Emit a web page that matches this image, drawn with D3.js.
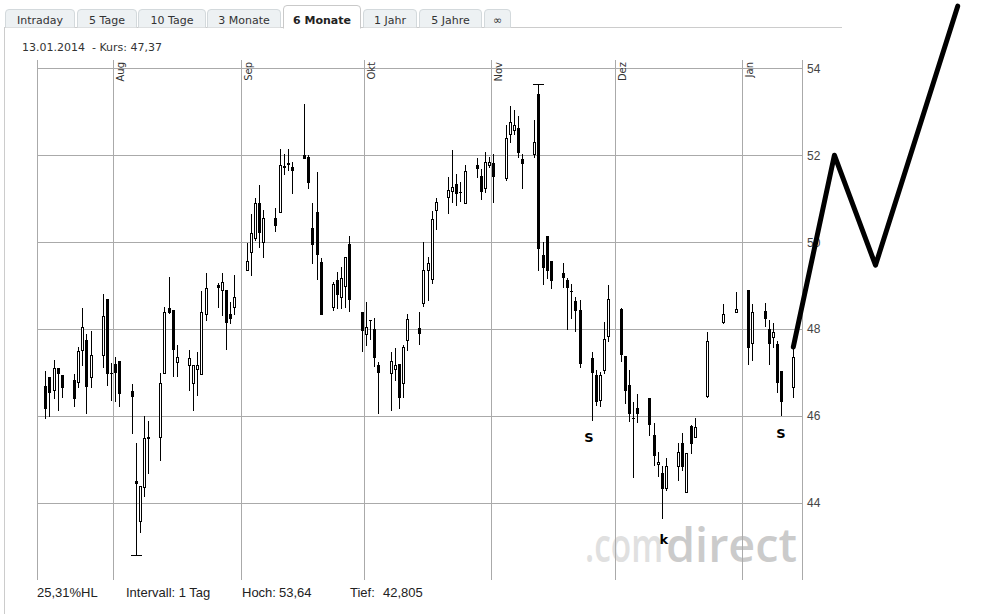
<!DOCTYPE html>
<html><head><meta charset="utf-8">
<script src="https://cdn.jsdelivr.net/npm/d3@7"></script>
<style>html,body{margin:0;padding:0;background:#fff;} svg{display:block;}</style>
</head><body>
<svg id="c" width="984" height="614"></svg>
<script>
// ---------- DATA ----------
const dates = ["2013-07-15","2013-07-16","2013-07-17","2013-07-18","2013-07-19",
"2013-07-22","2013-07-23","2013-07-24","2013-07-25","2013-07-26",
"2013-07-29","2013-07-30","2013-07-31","2013-08-01","2013-08-02",
"2013-08-05","2013-08-06","2013-08-07","2013-08-08","2013-08-09",
"2013-08-12","2013-08-13","2013-08-14","2013-08-15","2013-08-16",
"2013-08-19","2013-08-20","2013-08-21","2013-08-22","2013-08-23",
"2013-08-26","2013-08-27","2013-08-28","2013-08-29","2013-08-30",
"2013-09-02","2013-09-03","2013-09-04","2013-09-05","2013-09-06",
"2013-09-09","2013-09-10","2013-09-11","2013-09-12","2013-09-13",
"2013-09-16","2013-09-17","2013-09-18","2013-09-19","2013-09-20",
"2013-09-23","2013-09-24","2013-09-25","2013-09-26","2013-09-27",
"2013-09-30","2013-10-01","2013-10-02","2013-10-03","2013-10-04",
"2013-10-07","2013-10-08","2013-10-09","2013-10-10","2013-10-11",
"2013-10-14","2013-10-15","2013-10-16","2013-10-17","2013-10-18",
"2013-10-21","2013-10-22","2013-10-23","2013-10-24","2013-10-25",
"2013-10-28","2013-10-29","2013-10-30","2013-10-31","2013-11-01",
"2013-11-04","2013-11-05","2013-11-06","2013-11-07","2013-11-08",
"2013-11-11","2013-11-12","2013-11-13","2013-11-14","2013-11-15",
"2013-11-18","2013-11-19","2013-11-20","2013-11-21","2013-11-22",
"2013-11-25","2013-11-26","2013-11-27","2013-11-28","2013-11-29",
"2013-12-02","2013-12-03","2013-12-04","2013-12-05","2013-12-06",
"2013-12-09","2013-12-10","2013-12-11","2013-12-12","2013-12-13",
"2013-12-16","2013-12-17","2013-12-18","2013-12-19","2013-12-20",
"2013-12-23","2013-12-27","2013-12-30",
"2014-01-02","2014-01-03",
"2014-01-06","2014-01-07","2014-01-08","2014-01-09","2014-01-10",
"2014-01-13"];
const opens = [46.69,46.91,46.60,47.10,46.94, 46.83,46.78,47.53,47.75,46.89,
47.40,48.69,46.99,47.20,47.27, 46.58,44.50,43.58,44.36,45.51,
45.51,46.98,48.48,48.44,47.25, 47.17,46.75,47.09,46.96,48.34,
49.01,48.89,48.90,48.35,48.50, 49.35,49.77,50.09,50.89,50.00,
50.56,50.69,51.76,51.83,51.73, 52.01,51.97,50.32,50.69,49.54,
48.52,49.12,48.73,48.99,49.95, 48.40,47.88,48.21,48.00,47.17,
46.98,47.08,47.20,46.75,47.75, 48.02,48.59,49.36,49.15,50.75,
51.05,51.18,51.33,51.15,50.91, 51.78,51.52,51.24,51.77,51.81,
51.47,52.48,52.57,52.62,51.91, 52.02,53.40,49.70,50.15,49.57,
49.28,49.13,48.88,48.65,48.45, 47.33,46.94,46.38,47.07,47.85,
48.46,47.38,46.71,45.95,46.18, 46.41,45.56,44.89,44.68,44.34,
44.84,45.39,44.26,45.76,45.51, 46.46,48.17,48.39, 48.90,47.69,
48.42,48.00,47.83,47.66,47.04, 46.68];
const highs = [47.04,46.91,47.29,47.10,46.94, 46.96,47.60,48.48,47.88,47.96,
48.81,48.69,47.23,47.35,47.27, 46.73,45.37,44.39,45.99,45.89,
46.98,48.52,49.19,48.44,47.64, 47.52,47.17,47.47,48.88,49.29,
49.07,49.29,48.90,48.62,49.24, 49.97,50.64,51.02,51.31,50.74,
50.79,52.14,52.04,52.14,51.84, 53.18,52.00,50.89,51.61,49.63,
49.08,49.31,49.44,49.65,50.14, 48.40,48.62,48.21,48.25,47.24,
47.48,47.57,47.20,47.63,48.35, 48.40,50.00,49.65,50.72,51.01,
51.49,52.11,51.56,51.39,51.77, 51.93,51.68,52.08,51.95,52.02,
52.70,53.13,53.04,52.90,52.03, 52.81,53.64,50.01,50.15,49.57,
49.51,49.18,49.04,48.73,48.67, 47.47,47.06,47.02,48.17,49.02,
48.48,47.38,47.06,46.32,46.51, 46.41,45.83,45.17,44.84,45.03,
45.37,45.60,45.14,45.79,45.95, 47.94,48.58,48.85, 48.90,48.58,
48.61,48.21,48.13,47.73,47.04, 47.60];
const lows = [45.95,45.99,46.41,46.15,46.43, 46.24,46.68,47.17,46.06,46.68,
47.14,46.71,46.38,46.35,46.23, 45.62,42.805,43.33,44.15,44.70,
45.00,46.98,48.36,46.93,46.93, 46.61,46.13,46.48,46.96,48.21,
48.50,48.32,47.54,48.13,48.34, 49.35,49.24,50.05,49.90,49.67,
50.26,50.69,51.56,51.65,51.14, 51.94,51.25,49.51,49.15,48.34,
48.44,48.49,48.49,48.52,48.41, 47.49,47.64,47.77,47.16,46.06,
46.13,46.84,46.18,46.43,47.52, 47.66,48.54,48.67,49.07,50.30,
50.66,50.93,50.85,50.95,50.91, 51.49,50.99,51.16,51.72,50.93,
51.43,52.31,52.48,51.95,51.24, 51.95,49.36,49.03,49.17,48.94,
48.98,48.00,48.25,47.96,47.14, 45.92,46.25,46.22,46.98,47.73,
47.27,46.31,45.89,44.59,45.87, 45.56,44.87,44.61,43.65,44.31,
44.53,44.76,44.26,45.14,45.51, 46.43,48.15,48.39, 47.20,47.30,
48.07,47.20,47.60,46.56,46.02, 46.43];
const closes = [46.18,46.55,47.10,47.00,46.68, 46.41,47.50,48.04,46.70,47.40,
48.30,46.98,46.98,47.02,46.52, 46.47,44.46,44.39,45.49,45.50,
46.75,48.39,48.40,47.54,47.37, 47.34,47.17,47.17,48.39,48.94,
48.98,49.08,48.16,48.26,48.75, 49.56,50.20,50.89,50.24,50.55,
50.40,51.77,51.72,51.80,51.65, 51.94,51.39,49.95,49.72,48.34,
49.03,48.80,49.17,49.65,48.69, 47.97,48.06,48.21,47.35,47.02,
47.27,47.17,46.43,47.58,48.23, 47.92,49.36,49.51,50.53,50.93,
51.20,51.26,51.12,51.15,51.64, 51.71,51.18,51.84,51.84,51.52,
52.39,52.76,52.70,52.08,51.81, 52.30,49.86,49.44,49.36,49.13,
49.19,48.96,48.88,48.45,47.21, 47.02,46.35,46.94,47.77,48.69,
47.42,46.60,46.06,45.95,46.08, 45.81,45.10,44.94,44.34,44.84,
45.18,44.84,45.14,45.37,45.74, 47.73,48.34,48.46, 47.60,48.39,
48.25,47.67,47.94,46.79,46.35, 47.37];

const yTicks = [44,46,48,50,52,54];
const monthDates = ["2013-08-01","2013-09-01","2013-10-01","2013-11-01","2013-12-01","2014-01-01"];
const monthLabels = ["Aug","Sep","Okt","Nov","Dez","Jan"];

// hand-drawn forecast zig-zag (date, price)
const zigDates = ["2014-01-13","2014-01-23","2014-02-02","2014-02-22"];
const zigPrices = [47.59, 52.0, 49.47, 55.43];

// annotation letters
const noteLabels = ["S","k","S"];
const noteDates = ["2013-11-25","2013-12-12","2014-01-10"];
const notePrices = [45.40, 43.06, 45.50];

const tabLabels = ["Intraday","5 Tage","10 Tage","3 Monate","6 Monate","1 Jahr","5 Jahre","\u221E"];
const activeTab = "6 Monate";

const headerDate = "13.01.2014";
const headerKurs = "- Kurs: 47,37";
const footer = [["25,31%HL"],["Intervall: 1 Tag"],["Hoch:","53,64"],["Tief:","42,805"]];

// ---------- LAYOUT ----------
const svg = d3.select("#c");
const plot = {left:37, right:802, top:60, bottom:580};
const noon = s => new Date(Date.parse(s + "T12:00:00Z"));
const midnight = s => new Date(Date.parse(s + "T00:00:00Z"));

const x = d3.scaleUtc()
  .domain([noon("2013-07-15"), noon("2014-01-13")])
  .range([45.3, 793.3]);
const y = d3.scaleLinear().domain([44,54]).range([503,68.3]);

// frame lines
svg.append("line").attr("x1",4.5).attr("x2",4.5).attr("y1",27).attr("y2",614).attr("stroke","#cccccc");
svg.append("line").attr("x1",4).attr("x2",842).attr("y1",27.5).attr("y2",27.5).attr("stroke","#cccccc");

// tabs
const tabExt = [[5,75],[77,137],[138,206],[207,281],[283,361],[363,417],[419,482],[484,511]];
function tabPath(x0,x1,y0,y1,r){
  return `M${x0+0.5},${y1} V${y0+r} Q${x0+0.5},${y0+0.5} ${x0+r},${y0+0.5} H${x1-r} Q${x1-0.5},${y0+0.5} ${x1-0.5},${y0+r} V${y1}`;
}
tabLabels.forEach((lab,i)=>{
  const [x0,x1] = tabExt[i];
  const act = lab === activeTab;
  svg.append("path").attr("d", tabPath(x0,x1, act?5:9, act?28.5:27.5, 4))
    .attr("fill", act ? "#ffffff" : "#edf1f3")
    .attr("stroke", act ? "#c9c9c9" : "#d3d9dc");
  svg.append("text").attr("x",(x0+x1)/2).attr("y", act?23.5:24)
    .attr("text-anchor","middle")
    .attr("font-family","'DejaVu Sans', Verdana, sans-serif")
    .attr("font-size", 11)
    .attr("font-weight", act ? "bold" : "normal")
    .attr("fill", act ? "#222" : "#333")
    .text(lab);
});

// header
svg.append("text").attr("x",22).attr("y",51)
  .attr("font-family","'DejaVu Sans', Verdana, sans-serif").attr("font-size",11)
  .attr("fill","#333").style("white-space","pre")
  .text(headerDate + "  " + headerKurs);

// watermark
svg.append("text").attr("x",585).attr("y",562)
  .attr("font-family","'Open Sans', sans-serif").attr("font-weight",600).attr("font-size",47)
  .attr("fill","#e0e0e0").attr("textLength",78).attr("lengthAdjust","spacingAndGlyphs").text(".com");
svg.append("text").attr("x",666).attr("y",562)
  .attr("font-family","'Open Sans', sans-serif").attr("font-weight",600).attr("font-size",47)
  .attr("fill","#cbcbcb").attr("textLength",131).attr("lengthAdjust","spacingAndGlyphs").text("direct");

// grid
const grid = svg.append("g").attr("shape-rendering","crispEdges");
grid.selectAll("line.h").data(yTicks).join("line")
  .attr("x1",plot.left).attr("x2",plot.right)
  .attr("y1",d=>Math.round(y(d))+0.5).attr("y2",d=>Math.round(y(d))+0.5)
  .attr("stroke","#aaaaaa");
grid.selectAll("line.v").data(monthDates).join("line")
  .attr("x1",d=>Math.round(x(midnight(d)))+0.5).attr("x2",d=>Math.round(x(midnight(d)))+0.5)
  .attr("y1",plot.top).attr("y2",plot.bottom).attr("stroke","#aaaaaa");
grid.append("line").attr("x1",plot.left+0.5).attr("x2",plot.left+0.5)
  .attr("y1",plot.top).attr("y2",plot.bottom).attr("stroke","#aaaaaa");
grid.append("line").attr("x1",plot.right+0.5).attr("x2",plot.right+0.5)
  .attr("y1",plot.top).attr("y2",plot.bottom).attr("stroke","#aaaaaa");

// y axis labels
const yAxis = d3.axisRight(y).tickValues(yTicks).tickSize(0).tickPadding(5).tickFormat(d3.format("d"));
const ya = svg.append("g").attr("transform",`translate(${plot.right},0)`).call(yAxis);
ya.select(".domain").remove();
ya.selectAll("text").attr("font-family","'Liberation Sans', Arial, sans-serif").attr("font-size",12).attr("fill","#444");

// month labels
svg.selectAll("text.m").data(monthDates).join("text")
  .attr("transform",d=>`translate(${Math.round(x(midnight(d)))+11},62) rotate(-90)`)
  .attr("text-anchor","end")
  .attr("font-family","'DejaVu Sans', Verdana, sans-serif").attr("font-size",10).attr("fill","#333")
  .text((d,i)=>monthLabels[i]);

// candles
const candles = dates.map((d,i)=>({t:noon(d), o:opens[i], h:highs[i], l:lows[i], c:closes[i]}));
const iMax = d3.maxIndex(highs), iMin = d3.minIndex(lows);
const cg = svg.append("g").attr("shape-rendering","crispEdges");
candles.forEach((d,i)=>{
  const cx = Math.round(x(d.t));
  cg.append("line").attr("x1",cx+0.5).attr("x2",cx+0.5)
    .attr("y1",Math.round(y(d.h))).attr("y2",Math.round(y(d.l))+1).attr("stroke","#000");
  const top = Math.round(y(Math.max(d.o,d.c))), bot = Math.round(y(Math.min(d.o,d.c)));
  if (bot - top < 2) {
    cg.append("rect").attr("x",cx-1).attr("y",top).attr("width",3).attr("height",Math.max(1,bot-top+ (d.c<d.o?1:1)))
      .attr("fill","#000");
  } else if (d.c < d.o) {
    cg.append("rect").attr("x",cx-1).attr("y",top).attr("width",3).attr("height",bot-top+1).attr("fill","#000");
  } else {
    cg.append("rect").attr("x",cx-0.5).attr("y",top+0.5).attr("width",2).attr("height",bot-top)
      .attr("fill","#fff").attr("stroke","#000");
  }
  if (i === iMax) cg.append("line").attr("x1",cx-5).attr("x2",cx+6)
      .attr("y1",Math.round(y(d.h))+0.5).attr("y2",Math.round(y(d.h))+0.5).attr("stroke","#000");
  if (i === iMin) cg.append("line").attr("x1",cx-5).attr("x2",cx+6)
      .attr("y1",Math.round(y(d.l))+0.5).attr("y2",Math.round(y(d.l))+0.5).attr("stroke","#000");
});

// annotation letters
svg.selectAll("text.n").data(noteLabels).join("text")
  .attr("x",(d,i)=>x(noon(noteDates[i])) - (i===0?3:i===1?-2:0))
  .attr("y",(d,i)=>y(notePrices[i]))
  .attr("text-anchor","middle")
  .attr("font-family","'DejaVu Sans', Verdana, sans-serif").attr("font-weight","bold").attr("font-size",13)
  .attr("fill","#000").text(d=>d);

// zig-zag
const zig = zigDates.map((d,i)=>[x(noon(d)), y(zigPrices[i])]);
svg.append("path").attr("d", d3.line()(zig))
  .attr("fill","none").attr("stroke","#000").attr("stroke-width",5)
  .attr("stroke-linejoin","round").attr("stroke-linecap","round");

// footer
const ff = "'Liberation Sans', Arial, sans-serif";
const fpos = [[37],[126],[242,279],[350,383]];
footer.forEach((parts,i)=>parts.forEach((p,j)=>{
  svg.append("text").attr("x",fpos[i][j]).attr("y",597)
    .attr("font-family",ff).attr("font-size",13).attr("fill","#222").text(p);
}));
</script>
</body></html>
